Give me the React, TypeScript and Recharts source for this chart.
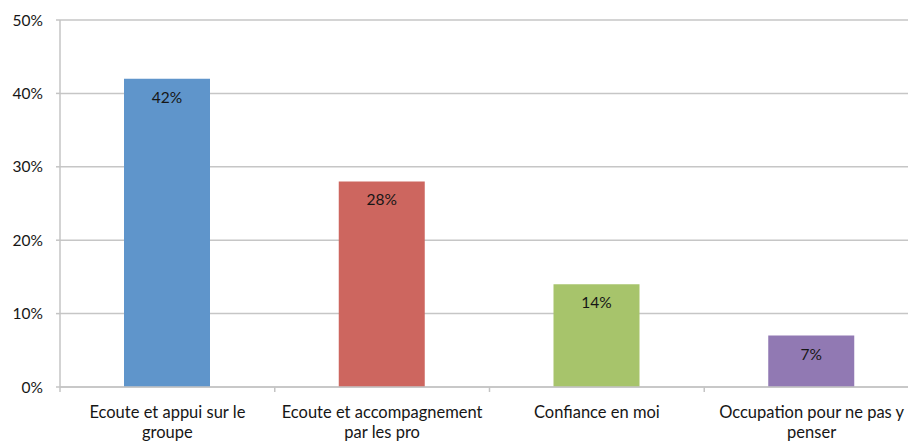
import React from "react"
import { BarChart, Bar, XAxis, YAxis, CartesianGrid, Cell, LabelList } from "recharts"

const categories = [
  "Ecoute et appui sur le\ngroupe",
  "Ecoute et accompagnement\npar les pro",
  "Confiance en moi",
  "Occupation pour ne pas y\npenser",
]
const values = [42, 28, 14, 7]
const barColors = ["#5f95cb", "#cd665f", "#a7c46b", "#9179b3"]
const yTicks = [0, 10, 20, 30, 40, 50]

const data = categories.map((name, i) => ({ name, value: values[i] }))

const FONT = "Lato, 'Open Sans', sans-serif"
const TEXT = "#161616"
const CHART_W = 930
const PLOT_W = CHART_W - 60 - 11

function CategoryTick(props: any) {
  const { x, y, payload } = props
  const half = payload?.offset || PLOT_W / categories.length / 2
  const lines = String(payload.value).split("\n")
  return (
    <g>
      <line x1={x - half} x2={x - half} y1={y - 8} y2={y - 3} stroke="#c4c4c4" strokeWidth={1.5} />
      <text x={x} y={y + 23} textAnchor="middle" fontFamily={FONT} fontSize={16.5} fill={TEXT}>
        {lines.map((l, i) => (
          <tspan key={i} x={x} dy={i === 0 ? 0 : 20}>
            {l}
          </tspan>
        ))}
      </text>
    </g>
  )
}

export default function App() {
  return (
    <div style={{ position: "absolute", left: 0, top: 0, width: 908, height: 444, overflow: "hidden", background: "#fff" }}>
      <BarChart width={CHART_W} height={444} data={data} margin={{ top: 20, right: 11, bottom: 0, left: 0 }}>
        <CartesianGrid vertical={false} stroke="#c6c6c6" strokeWidth={1.5} />
        <XAxis
          dataKey="name"
          height={57}
          interval={0}
          tickLine={false}
          axisLine={{ stroke: "#c4c4c4", strokeWidth: 1.5 }}
          tick={<CategoryTick />}
        />
        <YAxis
          width={60}
          domain={[0, 50]}
          ticks={yTicks}
          tickFormatter={(v) => `${v}%`}
          tickSize={4}
          tickMargin={13}
          tickLine={{ stroke: "#c4c4c4", strokeWidth: 1.5 }}
          axisLine={{ stroke: "#c4c4c4", strokeWidth: 1.5 }}
          tick={{ fill: TEXT, fontSize: 15.5, fontFamily: FONT }}
        />
        <Bar dataKey="value" barSize={86} isAnimationActive={false}>
          {data.map((d, i) => (
            <Cell key={d.name} fill={barColors[i]} />
          ))}
          <LabelList
            dataKey="value"
            position="insideTop"
            offset={13}
            formatter={(v: any) => `${v}%`}
            fill={TEXT}
            fontSize={15.5}
            fontFamily={FONT}
          />
        </Bar>
      </BarChart>
    </div>
  )
}
